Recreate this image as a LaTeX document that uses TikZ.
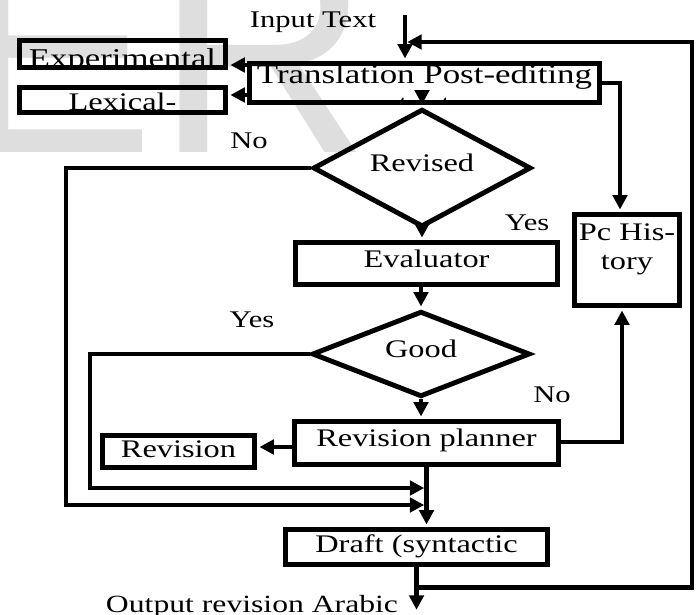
\documentclass[tikz,border=0pt]{standalone}
\usepackage{fontspec}
\setmainfont[FakeStretch=1.28]{Liberation Serif}
\newfontfamily\wmfont{Liberation Sans}
\usetikzlibrary{shapes.geometric,arrows.meta,calc}

\begin{document}
\begin{tikzpicture}[
  box/.style={draw, line width=3.5pt, rectangle, inner sep=0pt, font=\fontsize{18}{21}\selectfont,
              text height=0.75em, text depth=0.2em},
  dec/.style={draw, line width=3.5pt, diamond, inner sep=0pt, minimum width=5.45cm,
              minimum height=2.14cm, font=\fontsize{18}{21}\selectfont, text height=0.75em, text depth=0.2em},
  boxtext/.style 2 args={path picture={\node[inner sep=0pt, anchor=base, font=\fontsize{18}{21}\selectfont]
              at ([yshift=#1]path picture bounding box.center) {#2};}},
  ar/.style={-{Triangle[length=3.6mm, width=3.6mm]}, line width=3.5pt, shorten >=1.6pt},
  lb/.style={font=\fontsize{17}{20}\selectfont, inner sep=0pt, anchor=base},
]
\useasboundingbox (0,0) rectangle (17.475,-15.35);
\node[inner sep=0pt, anchor=base west, text=black!13, font=\wmfont\fontsize{212}{212}\selectfont] (wm) at (-1.1,-3.8) {ER};

\node[lb] (inp) at (7.825,-0.675) {Input Text};
\node[box, minimum width=5.16cm, minimum height=0.69cm,
      boxtext={-0.325cm}{\fontsize{19.3}{22}\selectfont Experimental}] (ex) at (3.0625,-1.35) {};
\node[box, minimum width=5.16cm, minimum height=0.64cm, boxtext={-0.25cm}{Lexical-}] (lx) at (3.0625,-2.5) {};
\node[box, minimum width=8.76cm, minimum height=0.99cm,
      boxtext={0cm}{\fontsize{19.4}{22}\selectfont\begin{tabular}[t]{@{}c@{}}Translation Post-editing\\text\end{tabular}}]
      (tr) at (10.6125,-2.075) {};
\node[dec] (rv) at (10.55,-4.2) {Revised};
\node[box, minimum width=6.56cm, minimum height=1.06cm] (ev) at (10.6625,-6.5875) {Evaluator};
\node[dec] (gd) at (10.525,-8.85) {Good};
\node[box, minimum width=2.64cm, minimum height=2.29cm,
      boxtext={0.5cm}{\begin{tabular}[t]{@{}c@{}}Pc His-\\tory\end{tabular}}] (ph) at (15.675,-6.5) {};
\node[box, minimum width=6.61cm, minimum height=1.09cm] (rp) at (10.6625,-11.075) {Revision planner};
\node[box, minimum width=3.81cm, minimum height=0.81cm, text height=0.9em, text depth=0pt] (rn) at (4.4625,-11.2875) {Revision};
\node[box, minimum width=6.56cm, minimum height=0.89cm, text height=0.8em, text depth=0pt] (dr) at (10.4125,-13.675) {Draft (syntactic};
\node[lb, font=\fontsize{17.6}{21}\selectfont] (outp) at (6.3,-15.3) {Output revision Arabic};

\node[lb] (no1) at (6.225,-3.7) {No};
\node[lb] (yes1) at (13.175,-5.75) {Yes};
\node[lb] (yes2) at (6.3,-8.175) {Yes};
\node[lb] (no2) at (13.8,-10.05) {No};

\coordinate (in) at (10.125,-0.375);
\coordinate (lp) at (17.3,-1.05);
\coordinate (out) at (dr.south |- 0,-15.3);

\draw[ar] (in) -- (in |- tr.north);
\draw[ar] (tr.west |- 0,-1.625) -- (ex.east |- 0,-1.625);
\draw[ar] (tr.west |- 0,-2.375) -- (lx.east |- 0,-2.375);
\draw[ar] (rv.north |- tr.south) -- (rv.north);
\draw[ar] (rv.south) -- (rv.south |- ev.north);
\draw[ar] (gd.north |- ev.south) -- (gd.north);
\draw[ar] (gd.south) -- (gd.south |- rp.north);
\draw[ar] (rp.south) -- (rp.south |- dr.north);
\draw[ar] (rp.west |- 0,-11.175) -- (rn.east |- 0,-11.175);
\draw[ar] (dr.south) -- (out);
\draw[ar] (tr.east) -| (ph.north -| 15.5,0);
\draw[ar] (rp.east |- 0,-11.05) -| (ph.south -| 15.55,0);
\draw[ar] (rv.west) -| (1.65,-12.625) -- (rp.south |- 0,-12.625);
\draw[ar] (gd.west) -| (2.25,-12.2) -- (rp.south |- 0,-12.2);
\draw[ar] (dr.south) ++(0,-0.5) -| (lp) -- (in |- lp);
\end{tikzpicture}
\end{document}
